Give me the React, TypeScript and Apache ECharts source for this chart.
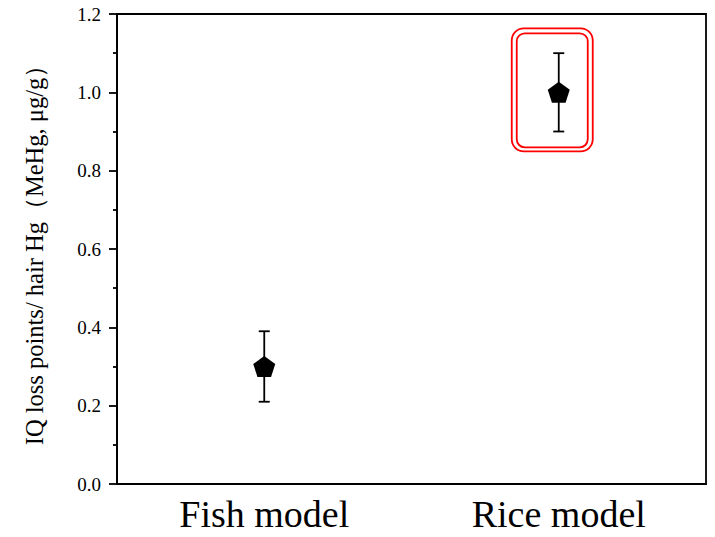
import React, { useEffect, useRef } from "react";
import * as echarts from "echarts";

const categories = ["Fish model", "Rice model"];
const means = [0.3, 1.0];
const lowerBounds = [0.21, 0.9];
const upperBounds = [0.39, 1.1];
const highlighted = ["Rice model"];
const yTicks = [0, 0.2, 0.4, 0.6, 0.8, 1.0, 1.2];

const FONT = "Liberation Serif";
const PENTAGON = "path://M50,0 L97.55,34.55 L79.39,90.45 L20.61,90.45 L2.45,34.55 Z";

export default function App() {
  const ref = useRef<HTMLDivElement>(null);
  useEffect(() => {
    if (!ref.current) return;
    const chart = echarts.init(ref.current, null, { renderer: "svg" });
    const errData = categories.map((c, i) => [i, lowerBounds[i], upperBounds[i]]);
    const boxData = categories
      .map((c, i) => [i, means[i]])
      .filter((d) => highlighted.includes(categories[d[0] as number]));
    chart.setOption({
      animation: false,
      backgroundColor: "#fff",
      textStyle: { fontFamily: FONT },
      grid: {
        left: 117,
        right: 9,
        top: 14,
        bottom: 53,
        show: true,
        borderColor: "#000",
        borderWidth: 1.8,
      },
      xAxis: {
        type: "category",
        data: categories,
        boundaryGap: true,
        axisLine: { lineStyle: { color: "#000", width: 1.8 } },
        axisTick: { alignWithLabel: true, length: 8, lineStyle: { color: "#000", width: 1.8 } },
        axisLabel: { color: "#000", fontFamily: FONT, fontSize: 38, lineHeight: 38, margin: 11 },
        splitLine: { show: false },
      },
      yAxis: {
        type: "value",
        min: 0,
        max: 1.2,
        interval: 0.2,
        name: "IQ loss points/ hair Hg（MeHg, μg/g）",
        nameLocation: "middle",
        nameGap: 70,
        nameTextStyle: { color: "#000", fontFamily: FONT, fontSize: 24.5 },
        axisLine: { show: true, lineStyle: { color: "#000", width: 1.8 } },
        axisTick: { show: true, length: 8, lineStyle: { color: "#000", width: 1.8 } },
        minorTick: { show: true, splitNumber: 2, length: 4, lineStyle: { color: "#000", width: 1.8 } },
        axisLabel: {
          color: "#000",
          fontFamily: FONT,
          fontSize: 19,
          margin: 16,
          formatter: (v: number) => {
            const t = yTicks.find((x) => Math.abs(x - v) < 1e-9);
            return (t !== undefined ? t : v).toFixed(1);
          },
        },
        splitLine: { show: false },
      },
      series: [
        {
          type: "custom",
          name: "error",
          data: errData,
          z: 2,
          renderItem: (params: any, api: any) => {
            const idx = api.value(0);
            const lo = api.coord([idx, api.value(1)]);
            const hi = api.coord([idx, api.value(2)]);
            const cap = 5.5;
            const style = { stroke: "#000", lineWidth: 1.8 };
            return {
              type: "group",
              children: [
                { type: "line", shape: { x1: lo[0], y1: lo[1], x2: hi[0], y2: hi[1] }, style },
                { type: "line", shape: { x1: hi[0] - cap, y1: hi[1], x2: hi[0] + cap, y2: hi[1] }, style },
                { type: "line", shape: { x1: lo[0] - cap, y1: lo[1], x2: lo[0] + cap, y2: lo[1] }, style },
              ],
            };
          },
        },
        {
          type: "scatter",
          name: "mean",
          data: means,
          symbol: PENTAGON,
          symbolSize: 22,
          symbolKeepAspect: true,
          itemStyle: { color: "#000", opacity: 1 },
          z: 3,
        },
        {
          type: "custom",
          name: "highlight",
          data: boxData,
          z: 4,
          renderItem: (params: any, api: any) => {
            const p = api.coord([api.value(0), api.value(1)]);
            const style = { fill: "none", stroke: "#ff0000", lineWidth: 1.8 };
            return {
              type: "group",
              children: [
                {
                  type: "rect",
                  shape: { x: p[0] - 47, y: p[1] - 64, width: 81, height: 123, r: 12 },
                  style,
                },
                {
                  type: "rect",
                  shape: { x: p[0] - 42, y: p[1] - 59, width: 71, height: 114, r: 8 },
                  style,
                },
              ],
            };
          },
        },
      ],
    });
    return () => chart.dispose();
  }, []);
  return (
    <div
      ref={ref}
      style={{ position: "fixed", left: 0, top: 0, width: 715, height: 537, background: "#fff" }}
    />
  );
}
